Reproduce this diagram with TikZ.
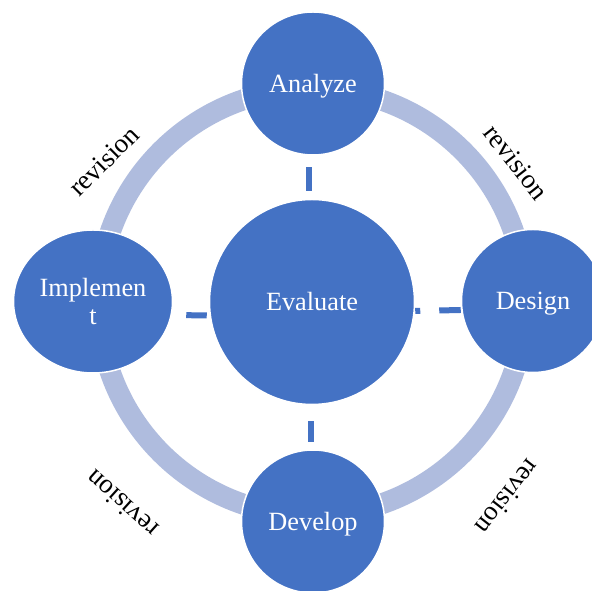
\documentclass[tikz,border=0pt]{standalone}
\usepackage{fontspec}
\setmainfont{Liberation Serif}
\usetikzlibrary{shapes.geometric}
\definecolor{stageblue}{RGB}{68,114,196}
\definecolor{ringblue}{RGB}{175,188,222}
\begin{document}
\begin{tikzpicture}[x=1pt,y=1pt,
  stage/.style={circle, fill=stageblue, draw=white, line width=1.5pt,
    minimum size=143pt, inner sep=0pt, text=white, align=center,
    font=\fontsize{26.3}{28}\selectfont},
  oneline/.style={text height=17.5pt, text depth=0pt},
  hub/.style={stage, oneline, minimum size=205pt},
  link/.style={draw=stageblue, line width=6pt},
  revlabel/.style={font=\fontsize{27}{30}\selectfont, text=black, inner sep=0pt}]
\useasboundingbox (0,0) rectangle (592,591);

% cycle ring behind the stages
\draw[ringblue, line width=21pt] (312,289) circle[radius=213.5];

% stages
\node[hub]   (eval)   at (312,289)   {Evaluate};
\node[stage, oneline] (analyze) at (313,507.5) {Analyze};
\node[stage, oneline] (design)  at (533,290)   {Design};
\node[stage, oneline] (develop) at (313,69.5)  {Develop};
\node[stage, ellipse, minimum width=159pt, minimum height=143pt]
             (implement) at (93,289.5) {Implemen\\t};

% dashed spokes from the hub
\draw[link, shorten <=8pt, shorten >=11.5pt]
  ([xshift=-3pt]eval.north) -- ([xshift=-4pt]analyze.south);
\draw[link, dash pattern=on 5pt off 19pt on 40pt off 10pt]
  ([yshift=-9pt]eval.east) -- ([yshift=-9pt]design.west);
\draw[link, shorten <=16pt, shorten >=7pt]
  ([xshift=-1.5pt]eval.south) -- ([xshift=-2.5pt]develop.north);
\draw[link, shorten <=13pt, shorten >=2pt]
  ([yshift=-13.5pt]implement.east) -- ([yshift=-13.5pt]eval.west);

% revision labels along the ring
\node[revlabel, rotate=45]  (revtl) at (104,430) {revision};
\node[revlabel, rotate=-52] (revtr) at (516,429) {revision};
\node[revlabel, rotate=138] (revbl) at (122,87)  {revision};
\node[revlabel, rotate=232] (revbr) at (508,94)  {revision};
\end{tikzpicture}
\end{document}
